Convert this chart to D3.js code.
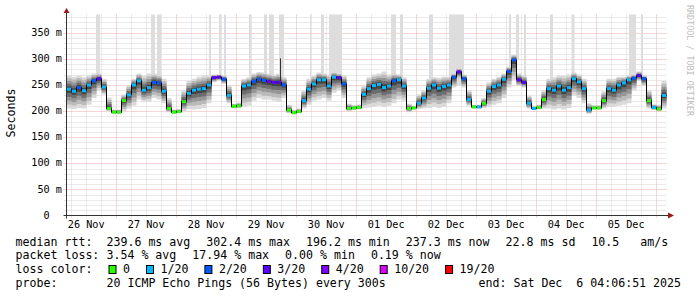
<!DOCTYPE html>
<html>
<head>
<meta charset="utf-8">
<script src="https://cdn.jsdelivr.net/npm/d3@7"></script>
<style>
body { margin: 0; background: #fff; }
svg { display: block; font-family: "DejaVu Sans Mono", monospace; }
text { white-space: pre; }
</style>
</head>
<body>
<svg width="697" height="297"></svg>
<script>
// probe window: 10 days ending Sat Dec 6 04:06:51 2025, one sample every 2 hours
const endTime = Date.UTC(2025, 11, 6, 4, 6, 51);
const startTime = endTime - 10 * 24 * 3600e3;
const stepHours = 2;

// median rtt (ms) per sample
const median = [
  242, 238, 245, 239, 250, 258, 262, 246, 205, 198,
  198, 220, 231, 250, 258, 240, 245, 255, 254, 238,
  205, 198, 199, 218, 234, 240, 242, 243, 250, 264,
  265, 261, 230, 209, 210, 248, 250, 257, 261, 259,
  257, 255, 255, 250, 202, 197, 199, 220, 242, 252,
  260, 260, 248, 265, 264, 252, 205, 206, 207, 232,
  243, 249, 251, 245, 248, 258, 260, 248, 205, 206,
  215, 225, 244, 250, 244, 247, 250, 265, 275, 262,
  222, 208, 208, 215, 238, 247, 250, 261, 276, 298,
  260, 255, 215, 205, 207, 222, 243, 240, 248, 240,
  245, 262, 256, 243, 202, 206, 206, 220, 243, 240,
  250, 254, 260, 263, 268, 262, 220, 207, 204, 230
];
// loss level index per sample (into lossLabels)
const loss = [
  1, 1, 2, 1, 1, 2, 3, 1, 0, 0,
  0, 0, 1, 1, 1, 1, 1, 2, 2, 1,
  0, 0, 0, 0, 1, 1, 1, 1, 1, 3,
  3, 2, 1, 0, 0, 1, 1, 2, 2, 2,
  3, 3, 3, 2, 0, 0, 0, 1, 1, 1,
  1, 1, 1, 1, 3, 2, 0, 0, 0, 1,
  1, 1, 1, 1, 1, 2, 1, 1, 0, 0,
  1, 1, 1, 1, 1, 1, 1, 2, 3, 2,
  1, 0, 1, 0, 1, 1, 1, 1, 2, 2,
  3, 3, 1, 1, 0, 0, 1, 1, 1, 1,
  1, 1, 1, 1, 1, 0, 0, 0, 1, 1,
  1, 1, 1, 2, 3, 2, 0, 1, 0, 1
];
// smoke extent (lowest / highest ping, ms) per sample
const smokeLo = [
  205, 204, 206, 205, 212, 225, 240, 232, 200, 195,
  195, 200, 205, 210, 222, 218, 218, 225, 222, 215,
  198, 195, 196, 200, 204, 203, 204, 206, 215, 255,
  258, 252, 215, 205, 206, 208, 210, 220, 225, 222,
  222, 220, 218, 225, 196, 194, 196, 205, 212, 220,
  222, 225, 220, 235, 240, 225, 200, 202, 203, 206,
  207, 208, 210, 208, 210, 215, 222, 220, 198, 203,
  204, 205, 206, 208, 206, 208, 215, 245, 262, 245,
  210, 205, 205, 206, 208, 212, 215, 225, 245, 260,
  248, 245, 205, 202, 203, 205, 205, 203, 205, 203,
  206, 230, 225, 215, 195, 203, 203, 205, 208, 208,
  210, 212, 215, 240, 258, 248, 205, 202, 200, 205
];
const smokeHi = [
  268, 266, 268, 265, 268, 272, 272, 262, 226, 203,
  203, 232, 250, 262, 272, 268, 272, 272, 270, 262,
  225, 203, 204, 240, 258, 262, 266, 268, 268, 270,
  270, 268, 250, 214, 216, 262, 265, 272, 275, 274,
  272, 270, 272, 265, 212, 202, 205, 240, 262, 268,
  274, 272, 270, 275, 272, 268, 214, 211, 212, 248,
  265, 270, 272, 276, 270, 272, 270, 265, 214, 210,
  232, 240, 262, 265, 264, 266, 266, 272, 282, 270,
  240, 212, 212, 225, 255, 262, 266, 272, 285, 308,
  272, 268, 230, 210, 212, 240, 262, 265, 268, 268,
  270, 274, 270, 262, 215, 211, 211, 238, 262, 262,
  266, 266, 268, 270, 276, 268, 240, 213, 212, 258
];
// periods (hours after start) whose slowest pings run off the top of the chart
const offscaleHours = [
  [11.8, 13.4], [33.8, 35.4], [36.2, 37.8], [57.0, 57.8], [61.0, 61.8],
  [63.0, 63.8], [73.0, 73.8], [79.0, 80.2], [81.0, 83.0], [85.0, 87.0],
  [97.4, 97.8], [101.8, 103.0], [105.0, 110.2], [129.8, 131.8], [133.4, 134.6],
  [145.0, 146.6], [153.0, 159.0], [177.0, 177.8], [179.8, 181.0], [183.0, 183.8],
  [193.4, 194.6], [202.0, 203.2], [225.0, 227.8], [229.8, 230.6]
];
// single slow ping (hour after start, ms)
const spikes = [[85.4, 301]];

const yTicks = [0, 50, 100, 150, 200, 250, 300, 350];
const yTickLabels = ["0  ", "50 m", "100 m", "150 m", "200 m", "250 m", "300 m", "350 m"];
const dayLabels = ["26 Nov", "27 Nov", "28 Nov", "29 Nov", "30 Nov", "01 Dec", "02 Dec", "03 Dec", "04 Dec", "05 Dec"];

const lossLabels = ["0", "1/20", "2/20", "3/20", "4/20", "10/20", "19/20"];
const lossColors = ["#26ff00", "#00b8ff", "#0059ff", "#5e00ff", "#7e00ff", "#dd00ff", "#ff0000"];

const medianStats = ["239.6 ms avg", "302.4 ms max", "196.2 ms min", "237.3 ms now", "22.8 ms sd", "10.5   am/s"];
const lossStats = ["3.54 % avg", "17.94 % max", "0.00 % min", "0.19 % now"];
const probeText = "20 ICMP Echo Pings (56 Bytes) every 300s";
const endText = "end: Sat Dec  6 04:06:51 2025";

const svg = d3.select("svg");
const plot = { left: 66.5, right: 666.5, top: 14.5, bottom: 215.5 };

const x = d3.scaleUtc().domain([startTime, endTime]).range([plot.left, plot.right]);
const y = d3.scaleLinear().domain([0, 385]).range([plot.bottom, plot.top]);
const hourTime = (h) => new Date(startTime + h * 3600e3);

const sampleTime = d3.range(median.length + 1).map((i) => hourTime(i * stepHours));
const rows = sampleTime.map((t, i) => {
  const j = Math.min(i, median.length - 1);
  return { t, med: median[j], lo: smokeLo[j], hi: smokeHi[j] };
});

// grid
const grid = svg.append("g");
const minorX = d3.utcHour.every(6).range(new Date(startTime), new Date(endTime));
const majorX = d3.utcDay.range(new Date(startTime), new Date(endTime));
grid.selectAll(".vmin").data(minorX.filter((d) => d.getUTCHours() !== 0)).join("line")
  .attr("x1", (d) => Math.round(x(d)) + 0.5).attr("x2", (d) => Math.round(x(d)) + 0.5)
  .attr("y1", plot.top).attr("y2", plot.bottom + 2)
  .attr("stroke", "#d4d4d4").attr("stroke-dasharray", "1,1");
grid.selectAll(".vmaj").data(majorX).join("line")
  .attr("x1", (d) => Math.round(x(d)) + 0.5).attr("x2", (d) => Math.round(x(d)) + 0.5)
  .attr("y1", plot.top).attr("y2", plot.bottom + 3)
  .attr("stroke", "#eeaaaa").attr("stroke-dasharray", "1,1");
const minorY = d3.range(10, 385, 10).filter((v) => v % 50 !== 0);
grid.selectAll(".hmin").data(minorY).join("line")
  .attr("x1", plot.left - 2).attr("x2", plot.right)
  .attr("y1", (d) => Math.round(y(d)) + 0.5).attr("y2", (d) => Math.round(y(d)) + 0.5)
  .attr("stroke", "#d4d4d4").attr("stroke-dasharray", "1,1");
grid.selectAll(".hmaj").data(yTicks.slice(1)).join("line")
  .attr("x1", plot.left - 3).attr("x2", plot.right)
  .attr("y1", (d) => Math.round(y(d)) + 0.5).attr("y2", (d) => Math.round(y(d)) + 0.5)
  .attr("stroke", "#eeaaaa").attr("stroke-dasharray", "1,1");

// off-scale pings
svg.append("g").selectAll("rect").data(offscaleHours).join("rect")
  .attr("x", (d) => x(hourTime(d[0])))
  .attr("width", (d) => x(hourTime(d[1])) - x(hourTime(d[0])))
  .attr("y", plot.top)
  .attr("height", (d) => y(median[Math.min(Math.floor(d[0] / stepHours), median.length - 1)]) - plot.top)
  .attr("fill", "#dddddd");

// smoke
const smokeLayers = [
  { k: 1.0, c: "#dadada" },
  { k: 0.8, c: "#bababa" },
  { k: 0.6, c: "#969696" },
  { k: 0.4, c: "#6e6e6e" },
  { k: 0.2, c: "#444444" }
];
const smoke = svg.append("g");
smokeLayers.forEach((layer) => {
  const area = d3.area()
    .curve(d3.curveStepAfter)
    .x((d) => x(d.t))
    .y0((d) => y(d.med - (d.med - d.lo) * layer.k))
    .y1((d) => y(d.med + (d.hi - d.med) * layer.k));
  smoke.append("path").attr("d", area(rows)).attr("fill", layer.c);
});

svg.append("g").selectAll("line").data(spikes).join("line")
  .attr("x1", (d) => Math.round(x(hourTime(d[0]))) + 0.5)
  .attr("x2", (d) => Math.round(x(hourTime(d[0]))) + 0.5)
  .attr("y1", (d) => y(d[1]))
  .attr("y2", (d) => y(median[Math.floor(d[0] / stepHours)]))
  .attr("stroke", "#333");

// median line
const medLine = d3.line().curve(d3.curveStepAfter).x((d) => x(d.t)).y((d) => y(d.med));
svg.append("path").attr("d", medLine(rows)).attr("fill", "none").attr("stroke", "#000");
svg.append("g").selectAll("line").data(median).join("line")
  .attr("x1", (d, i) => x(sampleTime[i]) + 0.5)
  .attr("x2", (d, i) => x(sampleTime[i + 1]) - 0.5)
  .attr("y1", (d) => y(d)).attr("y2", (d) => y(d))
  .attr("stroke", (d, i) => lossColors[loss[i]])
  .attr("stroke-width", 3);

// axes
const axisCol = "#333";
svg.append("line").attr("x1", plot.left).attr("x2", plot.left)
  .attr("y1", plot.bottom + 3).attr("y2", 10).attr("stroke", axisCol);
svg.append("line").attr("x1", plot.left - 3).attr("x2", 669)
  .attr("y1", plot.bottom).attr("y2", plot.bottom).attr("stroke", axisCol);
svg.append("path").attr("d", `M${plot.left - 3},13 L${plot.left},8 L${plot.left + 3},13 Z`).attr("fill", "#9b1b1b");
svg.append("path").attr("d", `M668,${plot.bottom - 3} L674,${plot.bottom} L668,${plot.bottom + 3} Z`).attr("fill", "#9b1b1b");

svg.append("g").selectAll("text").data(yTicks).join("text")
  .attr("x", 62).attr("y", (d) => y(d) + 3.2)
  .attr("text-anchor", "end").attr("font-size", "10.2px").attr("fill", "#000")
  .text((d, i) => yTickLabels[i]);

const firstNoon = d3.utcDay.floor(new Date(startTime));
svg.append("g").selectAll("text").data(dayLabels).join("text")
  .attr("x", (d, i) => x(new Date(+firstNoon + (i * 24 + 12) * 3600e3)))
  .attr("y", 227.5)
  .attr("text-anchor", "middle").attr("font-size", "10.2px").attr("fill", "#000")
  .text((d) => d);

svg.append("text")
  .attr("transform", "translate(15,113) rotate(-90)")
  .attr("text-anchor", "middle").attr("font-size", "11.6px").attr("fill", "#000")
  .text("Seconds");

svg.append("text")
  .attr("transform", "translate(686.5,5) rotate(90)")
  .attr("font-size", "8.4px").attr("fill", "#bdbdbd")
  .text("RRDTOOL / TOBI OETIKER");

// legend
const legend = svg.append("g").attr("font-size", "11.6px").attr("fill", "#000");
const rowY = [245.5, 259, 273, 286.5];
const gap = 16;

function rowItems(yPos, items) {
  let cx = 106.5;
  items.forEach((s) => {
    const t = legend.append("text").attr("x", cx).attr("y", yPos).text(s);
    cx += t.node().getComputedTextLength() + gap;
  });
}
legend.append("text").attr("x", 15.6).attr("y", rowY[0]).text("median rtt:");
rowItems(rowY[0], medianStats);
legend.append("text").attr("x", 15.6).attr("y", rowY[1]).text("packet loss:");
rowItems(rowY[1], lossStats);
legend.append("text").attr("x", 15.6).attr("y", rowY[2]).text("loss color:");
let bx = 108.5;
lossLabels.forEach((lab, i) => {
  legend.append("rect").attr("x", bx + 0.5).attr("y", 265.5).attr("width", 7).attr("height", 8)
    .attr("fill", lossColors[i]).attr("stroke", "#000");
  const t = legend.append("text").attr("x", bx + 14.5).attr("y", rowY[2]).text(lab);
  bx += 14.5 + t.node().getComputedTextLength() + gap;
});
legend.append("text").attr("x", 15.6).attr("y", rowY[3]).text("probe:");
legend.append("text").attr("x", 106.5).attr("y", rowY[3]).text(probeText);
legend.append("text").attr("x", 681).attr("y", rowY[3]).attr("text-anchor", "end").text(endText);
</script>
</body>
</html>
